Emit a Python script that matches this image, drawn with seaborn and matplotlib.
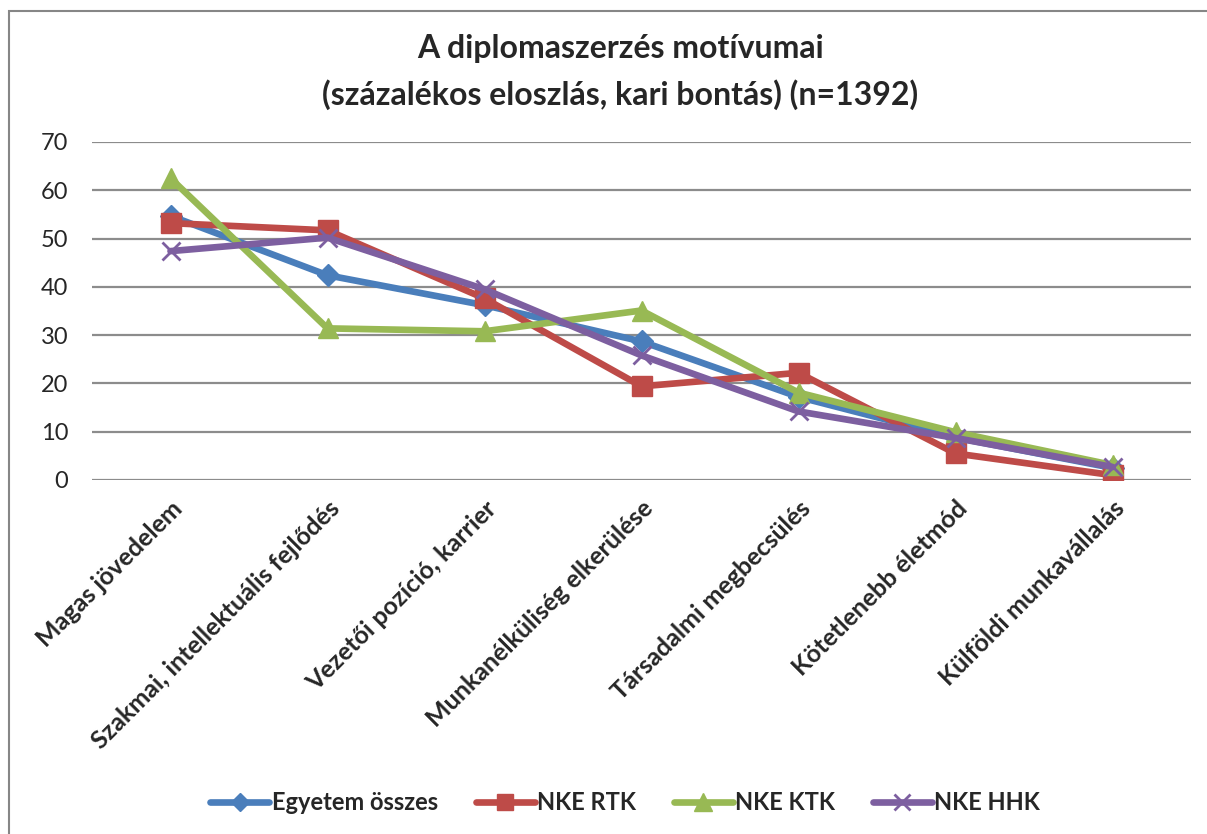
import numpy as np
import pandas as pd
import matplotlib.pyplot as plt
import seaborn as sns
from matplotlib.lines import Line2D
from matplotlib.patches import Rectangle

# Data
categories = [
    "Magas jövedelem",
    "Szakmai, intellektuális fejlődés",
    "Vezetői pozíció, karrier",
    "Munkanélküliség elkerülése",
    "Társadalmi megbecsülés",
    "Kötetlenebb életmód",
    "Külföldi munkavállalás",
]
egyetem = [54.7, 42.4, 36.2, 28.7, 17.2, 8.8, 2.5]
nke_rtk = [53.2, 51.7, 37.6, 19.4, 22.2, 5.5, 1.0]
nke_ktk = [62.5, 31.4, 30.8, 35.1, 18.1, 9.9, 3.1]
nke_hhk = [47.4, 50.2, 39.5, 25.8, 14.2, 8.7, 2.7]

series_names = ["Egyetem összes", "NKE RTK", "NKE KTK", "NKE HHK"]
colors = ["#4A7EBB", "#BE4B48", "#98B954", "#7D5FA0"]
markers = ["D", "s", "^", "x"]
msizes = [11, 14, 15, 13]

df = pd.DataFrame({
    "kat": categories * 4,
    "pos": list(range(len(categories))) * 4,
    "ertek": egyetem + nke_rtk + nke_ktk + nke_hhk,
    "sorozat": np.repeat(series_names, len(categories)),
})

sns.set_style("white")
plt.rcParams["font.family"] = ["Lato", "DejaVu Sans"]

fig = plt.figure(figsize=(12.07, 8.34), dpi=100)
ax = fig.add_axes([92 / 1207, 1 - 480 / 834, 1099 / 1207, 338 / 834])

for name, col, mk, ms in zip(series_names, colors, markers, msizes):
    sub = df[df["sorozat"] == name]
    sns.lineplot(data=sub, x="pos", y="ertek", ax=ax, color=col, lw=4.8,
                 marker=mk, markersize=ms, markeredgecolor=col,
                 markeredgewidth=2.0 if mk == "x" else 1, legend=False)

ax.set_xlim(-0.5, len(categories) - 0.5)
ax.set_ylim(0, 70)
ax.set_yticks(range(0, 71, 10))
ax.yaxis.grid(True, color="#8C8C8C", lw=1.6)
ax.set_axisbelow(True)
for s in ax.spines.values():
    s.set_visible(False)
ax.tick_params(axis="y", labelsize=17, length=0, pad=17)
ax.set_xticks(range(len(categories)))
ax.set_xticklabels(categories, rotation=45, ha="right", rotation_mode="anchor",
                   fontsize=18, fontweight="bold")
ax.tick_params(axis="x", length=0, pad=12)
ax.set_xlabel("")
ax.set_ylabel("")

fig.text(0.514, 0.942, "A diplomaszerzés motívumai", ha="center", va="center",
         fontsize=23, fontweight="bold")
fig.text(0.514, 0.886, "(százalékos eloszlás, kari bontás) (n=1392)", ha="center",
         va="center", fontsize=23, fontweight="bold")

handles = [Line2D([0], [0], color=c, lw=4.8, marker=m, markersize=s * 0.85,
                  markeredgecolor=c, markeredgewidth=2.0 if m == "x" else 1)
           for c, m, s in zip(colors, markers, msizes)]
fig.legend(handles, series_names, loc="center", bbox_to_anchor=(0.518, 0.038),
           ncol=4, frameon=False, prop={"size": 17, "weight": "bold"},
           handlelength=2.5, columnspacing=1.6, handletextpad=0.1)

fig.add_artist(Rectangle((9 / 1207, -0.05), 1.2, 1 - 11 / 834 + 0.05,
                         transform=fig.transFigure, fill=False,
                         edgecolor="#868686", lw=1.5))

fig.savefig("out.png", dpi=100)
